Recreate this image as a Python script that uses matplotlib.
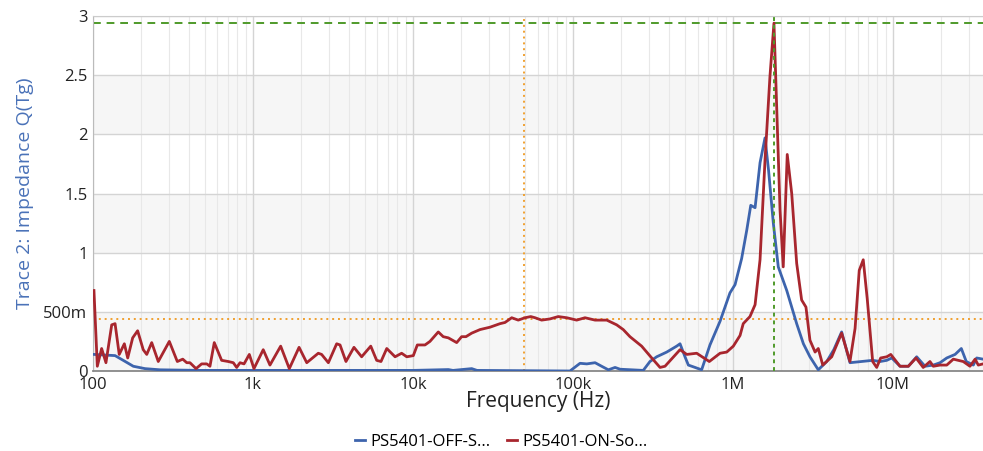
import numpy as np
import matplotlib
matplotlib.use('Agg')
import matplotlib.pyplot as plt
from matplotlib.ticker import FixedLocator, LogLocator, NullFormatter

plt.rcParams['font.family'] = ['Open Sans', 'DejaVu Sans']

# frequency as log10(Hz), value in Tg
red_exp = [2.006, 2.027, 2.054, 2.081, 2.117, 2.138, 2.164, 2.196, 2.217, 2.248,
           2.279, 2.314, 2.336, 2.367, 2.408, 2.477, 2.527, 2.561, 2.586, 2.606,
           2.644, 2.679, 2.711, 2.731, 2.758, 2.804, 2.846, 2.877, 2.898, 2.919,
           2.944, 2.977, 3.006, 3.064, 3.106, 3.173, 3.227, 3.288, 3.336, 3.408,
           3.429, 3.471, 3.523, 3.544, 3.581, 3.631, 3.679, 3.736, 3.773, 3.800,
           3.836, 3.888, 3.929, 3.961, 4.002, 4.027, 4.075, 4.106, 4.158, 4.189,
           4.221, 4.273, 4.304, 4.331, 4.367, 4.419, 4.481, 4.544, 4.575, 4.617,
           4.658, 4.700, 4.736, 4.763, 4.804, 4.856, 4.908, 4.961, 5.023, 5.075,
           5.138, 5.211, 5.273, 5.314, 5.356, 5.429, 5.492, 5.544, 5.575, 5.669,
           5.711, 5.773, 5.852, 5.919, 5.961, 6.002, 6.044, 6.064, 6.106, 6.138,
           6.169, 6.200, 6.231, 6.256, 6.279, 6.294, 6.314, 6.339, 6.367, 6.398,
           6.429, 6.456, 6.481, 6.513, 6.533, 6.561, 6.617, 6.679, 6.731, 6.763,
           6.789, 6.814, 6.839, 6.873, 6.898, 6.923, 6.961, 6.986, 7.044, 7.096,
           7.144, 7.189, 7.231, 7.252, 7.294, 7.336, 7.377, 7.439, 7.481, 7.513,
           7.533, 7.563]
red_val = [0.68, 0.04, 0.19, 0.07, 0.39, 0.40, 0.14, 0.23, 0.11, 0.28,
           0.34, 0.18, 0.14, 0.24, 0.08, 0.25, 0.08, 0.10, 0.07, 0.07,
           0.02, 0.06, 0.06, 0.04, 0.24, 0.09, 0.08, 0.07, 0.03, 0.07,
           0.06, 0.14, 0.02, 0.18, 0.05, 0.21, 0.02, 0.20, 0.07, 0.15,
           0.14, 0.07, 0.23, 0.22, 0.08, 0.20, 0.12, 0.21, 0.09, 0.08,
           0.19, 0.12, 0.15, 0.12, 0.13, 0.22, 0.22, 0.25, 0.33, 0.29,
           0.28, 0.24, 0.29, 0.29, 0.32, 0.35, 0.37, 0.40, 0.41, 0.45,
           0.43, 0.45, 0.46, 0.45, 0.43, 0.44, 0.46, 0.45, 0.43, 0.45,
           0.43, 0.43, 0.39, 0.35, 0.29, 0.21, 0.11, 0.03, 0.04, 0.18,
           0.14, 0.15, 0.08, 0.15, 0.16, 0.21, 0.30, 0.40, 0.46, 0.56,
           0.94, 1.78, 2.49, 2.94, 1.98, 1.36, 0.88, 1.83, 1.50, 0.91,
           0.60, 0.54, 0.26, 0.16, 0.19, 0.05, 0.12, 0.32, 0.08, 0.36,
           0.85, 0.94, 0.61, 0.08, 0.03, 0.11, 0.12, 0.14, 0.04, 0.04,
           0.11, 0.03, 0.08, 0.04, 0.05, 0.05, 0.10, 0.08, 0.04, 0.10,
           0.05, 0.06]

blue_exp = [2.006, 2.138, 2.189, 2.252, 2.325, 2.419, 2.669, 3.5, 4.0, 4.221,
            4.25, 4.367, 4.40, 4.981, 5.044, 5.086, 5.138, 5.179, 5.221, 5.263,
            5.294, 5.439, 5.481, 5.523, 5.586, 5.648, 5.669, 5.700, 5.721, 5.763,
            5.804, 5.856, 5.919, 5.981, 6.013, 6.054, 6.086, 6.111, 6.138, 6.169,
            6.200, 6.222, 6.252, 6.283, 6.336, 6.398, 6.440, 6.481, 6.533, 6.586,
            6.630, 6.679, 6.731, 6.873, 6.919, 6.961, 6.992, 7.044, 7.096, 7.148,
            7.200, 7.252, 7.294, 7.336, 7.388, 7.427, 7.458, 7.502, 7.523, 7.563]
blue_val = [0.14, 0.13, 0.09, 0.04, 0.02, 0.01, 0.005, 0.005, 0.005, 0.012,
            0.005, 0.02, 0.005, 0.0, 0.065, 0.06, 0.07, 0.04, 0.01, 0.03,
            0.015, 0.005, 0.08, 0.12, 0.16, 0.21, 0.23, 0.12, 0.05, 0.03,
            0.01, 0.22, 0.42, 0.66, 0.73, 0.95, 1.19, 1.40, 1.38, 1.76,
            1.97, 1.70, 1.25, 0.88, 0.68, 0.40, 0.23, 0.12, 0.01, 0.08,
            0.18, 0.33, 0.07, 0.09, 0.08, 0.09, 0.11, 0.04, 0.04, 0.12,
            0.04, 0.05, 0.07, 0.11, 0.14, 0.19, 0.08, 0.05, 0.11, 0.10]

yticks = [0, 0.5, 1, 1.5, 2, 2.5, 3]
ytick_labels = ['0', '500m', '1', '1.5', '2', '2.5', '3']
xticks = [1e2, 1e3, 1e4, 1e5, 1e6, 1e7]
xtick_labels = ['100', '1k', '10k', '100k', '1M', '10M']

# cursors
cursor_orange_f, cursor_orange_v = 4.95e4, 0.44
cursor_green_f, cursor_green_v = 1.8e6, 2.94

red_f = 10 ** np.array(red_exp)
blue_f = 10 ** np.array(blue_exp)

fig = plt.figure(figsize=(9.83, 4.51), dpi=100)
ax = fig.add_axes([0.0946, 0.1774, 0.9054, 0.7871])
ax.set_xscale('log')
ax.set_xlim(100, 10 ** 7.5625)
ax.set_ylim(0, 3)

# alternating bands
for lo in [0, 1, 2]:
    ax.axhspan(lo, lo + 0.5, color='#f6f6f6', zorder=0, lw=0)

ax.xaxis.set_major_locator(FixedLocator(xticks))
ax.xaxis.set_minor_locator(LogLocator(base=10, subs=np.arange(2, 10)))
ax.xaxis.set_minor_formatter(NullFormatter())
ax.set_xticks(xticks)
ax.set_xticklabels(xtick_labels)
ax.set_yticks(yticks)
ax.set_yticklabels(ytick_labels)
ax.grid(True, which='major', color='#d4d4d4', lw=1.0, zorder=1)
ax.grid(True, which='minor', axis='x', color='#e8e8e8', lw=0.8, zorder=1)
ax.set_axisbelow(True)
ax.tick_params(which='both', length=0, labelsize=12, colors='#222222', pad=4)

ax.spines['right'].set_visible(False)
ax.spines['top'].set_color('#cccccc')
ax.spines['left'].set_color('#bbbbbb')
ax.spines['bottom'].set_color('#888888')
ax.spines['bottom'].set_linewidth(1.3)

ax.axhline(cursor_orange_v, color='#f0a030', ls=(0, (1, 2)), lw=1.4, zorder=2)
ax.axvline(cursor_orange_f, color='#f0a030', ls=(0, (1, 2)), lw=1.4, zorder=2)
ax.axhline(cursor_green_v, color='#4f9a2a', ls=(0, (4, 3)), lw=1.4, zorder=2)

ax.plot(blue_f, blue_val, color='#3d64ad', lw=2, label='PS5401-OFF-S...', zorder=3)
ax.plot(red_f, red_val, color='#a8262e', lw=2, label='PS5401-ON-So...', zorder=4)
ax.axvline(cursor_green_f, color='#4f9a2a', ls=(0, (2, 2)), lw=1.4, zorder=5)

ax.set_xlabel('Frequency (Hz)', fontsize=15, color='#222222')
ax.xaxis.set_label_coords(0.5, -0.055)
ax.set_ylabel('Trace 2: Impedance Q(Tg)', fontsize=14, color='#4a72b8')
ax.yaxis.set_label_coords(-0.066, 0.5)

fig.legend(loc='lower center', bbox_to_anchor=(0.51, -0.03), ncol=2, frameon=False,
           fontsize=12, handlelength=0.6, handletextpad=0.3, columnspacing=1.0)

fig.savefig('out.png', dpi=100)
